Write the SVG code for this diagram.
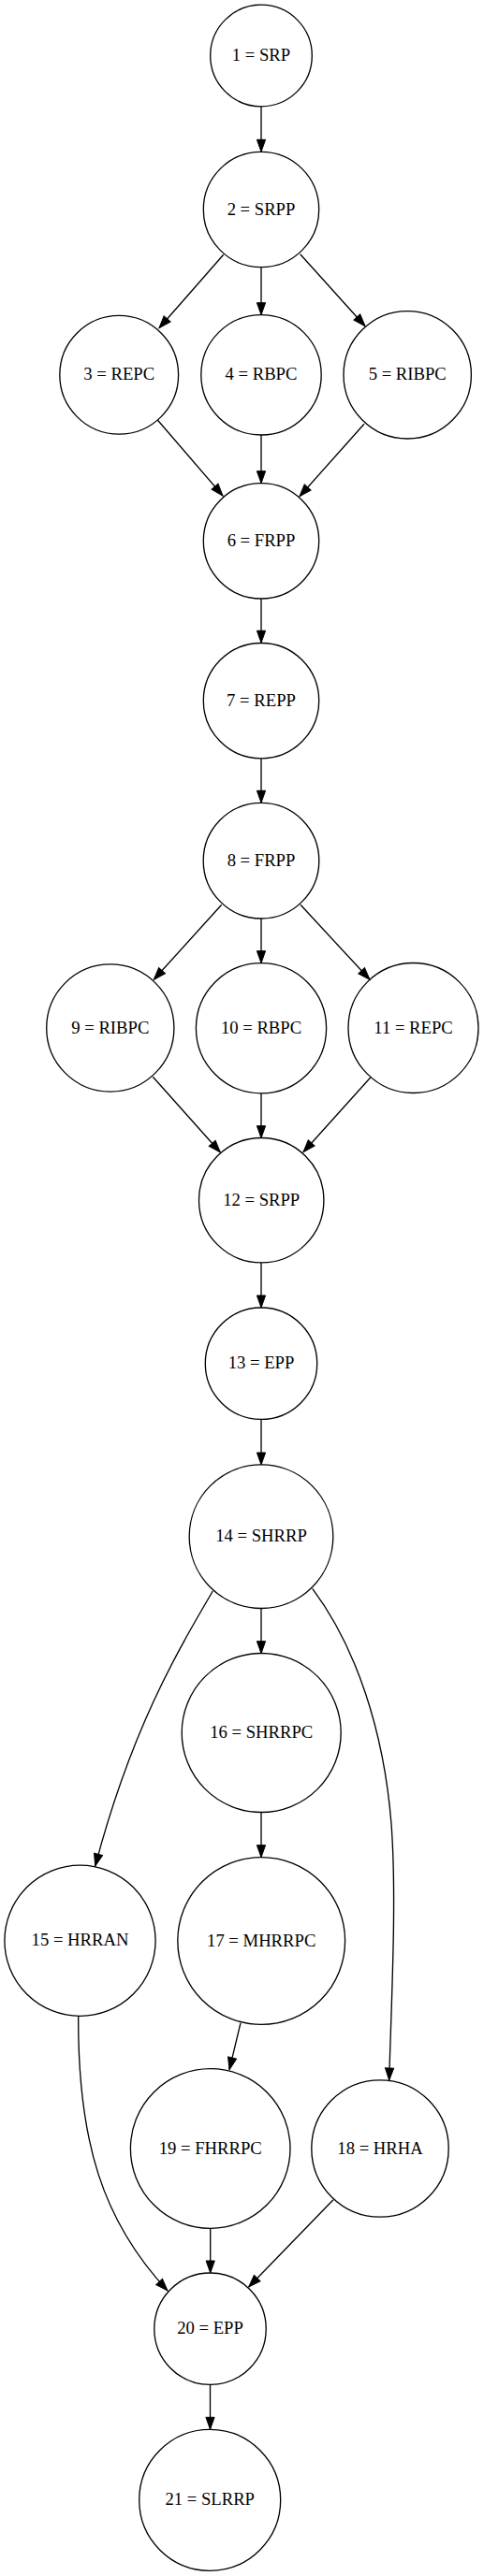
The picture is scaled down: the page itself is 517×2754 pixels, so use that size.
<svg xmlns="http://www.w3.org/2000/svg" width="517" height="2754" viewBox="0 0 517 2754">
<style>
.n circle{fill:none;stroke:#000;stroke-width:1.33}
.n text{font-family:"Liberation Serif","Times New Roman",serif;font-size:18.67px;text-anchor:middle;fill:#000}
.e path{fill:none;stroke:#000;stroke-width:1.33;marker-end:url(#ah)}
</style>
<defs>
<marker id="ah" markerUnits="userSpaceOnUse" viewBox="0 0 14 10" refX="13.5" refY="5" markerWidth="14" markerHeight="10" orient="auto" overflow="visible">
<path d="M0.5,0.4 L13.5,5 L0.5,9.6 Z" fill="#000" stroke="#000" stroke-width="1"/>
</marker>
</defs>
<rect width="517" height="2754" fill="#fff"/>
<g id="edges" class="e">
<path d="M279,113.7 L279,162.3"/>
<path d="M238.7,272.3 L170,350.7"/>
<path d="M279,285.7 L279,336.7"/>
<path d="M320.7,271.7 L390,348.7"/>
<path d="M168.3,449 L238,530"/>
<path d="M279,465 L279,516.7"/>
<path d="M389,453.3 L320,530.7"/>
<path d="M279,640 L279,687.3"/>
<path d="M279,811 L279,858.3"/>
<path d="M236.7,967.3 L164.3,1047.3"/>
<path d="M279,982 L279,1029.7"/>
<path d="M321,967.3 L395,1047.3"/>
<path d="M163.3,1151.3 L235.3,1232"/>
<path d="M279,1168.7 L279,1216.7"/>
<path d="M395.7,1152 L324,1231.7"/>
<path d="M279,1349.7 L279,1398"/>
<path d="M279,1517.3 L279,1566"/>
<path d="M279,1719.3 L279,1767.7"/>
<path d="M227.3,1701 C188,1768 140,1850 101.7,1995"/>
<path d="M333.7,1698.3 C380,1760 410,1850 418,1950 C424,2030 418,2140 415.7,2224"/>
<path d="M279,1937.3 L279,1985.7"/>
<path d="M257,2162.7 L245,2212.7"/>
<path d="M83.7,2155.3 C83,2290 110,2375 179,2449"/>
<path d="M224.7,2382.3 L224.7,2430"/>
<path d="M356,2351.7 L265.7,2445"/>
<path d="M224.5,2549.3 L224.5,2597.3"/>
</g>
<g id="n1" class="n"><circle cx="279" cy="59.5" r="54.3"/><text x="279" y="65">1 = SRP</text></g>
<g id="n2" class="n"><circle cx="279" cy="224" r="61.7"/><text x="279" y="229.5">2 = SRPP</text></g>
<g id="n3" class="n"><circle cx="127.2" cy="400.8" r="63.4"/><text x="127.2" y="406.3">3 = REPC</text></g>
<g id="n4" class="n"><circle cx="279" cy="400.8" r="64.2"/><text x="279" y="406.3">4 = RBPC</text></g>
<g id="n5" class="n"><circle cx="435.2" cy="400.8" r="68.2"/><text x="435.2" y="406.3">5 = RIBPC</text></g>
<g id="n6" class="n"><circle cx="279" cy="578.3" r="61.7"/><text x="279" y="583.8">6 = FRPP</text></g>
<g id="n7" class="n"><circle cx="279" cy="749.2" r="61.7"/><text x="279" y="754.7">7 = REPP</text></g>
<g id="n8" class="n"><circle cx="279" cy="920.2" r="61.8"/><text x="279" y="925.7">8 = FRPP</text></g>
<g id="n9" class="n"><circle cx="117.8" cy="1099" r="68.1"/><text x="117.8" y="1104.5">9 = RIBPC</text></g>
<g id="n10" class="n"><circle cx="279" cy="1099.2" r="69.6"/><text x="279" y="1104.7">10 = RBPC</text></g>
<g id="n11" class="n"><circle cx="441.5" cy="1099" r="69.5"/><text x="441.5" y="1104.5">11 = REPC</text></g>
<g id="n12" class="n"><circle cx="279.2" cy="1283.2" r="66.7"/><text x="279.2" y="1288.7">12 = SRPP</text></g>
<g id="n13" class="n"><circle cx="279" cy="1457.7" r="59.7"/><text x="279" y="1463.2">13 = EPP</text></g>
<g id="n14" class="n"><circle cx="279" cy="1642.7" r="76.8"/><text x="279" y="1648.2">14 = SHRRP</text></g>
<g id="n16" class="n"><circle cx="279.2" cy="1852.5" r="85"/><text x="279.2" y="1858">16 = SHRRPC</text></g>
<g id="n15" class="n"><circle cx="85.5" cy="2074.8" r="80.6"/><text x="85.5" y="2080.3">15 = HRRAN</text></g>
<g id="n17" class="n"><circle cx="279.2" cy="2075" r="89.4"/><text x="279.2" y="2080.5">17 = MHRRPC</text></g>
<g id="n19" class="n"><circle cx="224.7" cy="2297" r="85.3"/><text x="224.7" y="2302.5">19 = FHRRPC</text></g>
<g id="n18" class="n"><circle cx="406" cy="2297" r="73.2"/><text x="406" y="2302.5">18 = HRHA</text></g>
<g id="n20" class="n"><circle cx="224.5" cy="2489.7" r="59.7"/><text x="224.5" y="2495.2">20 = EPP</text></g>
<g id="n21" class="n"><circle cx="224.2" cy="2672.8" r="75.5"/><text x="224.2" y="2678.3">21 = SLRRP</text></g>
</svg>
